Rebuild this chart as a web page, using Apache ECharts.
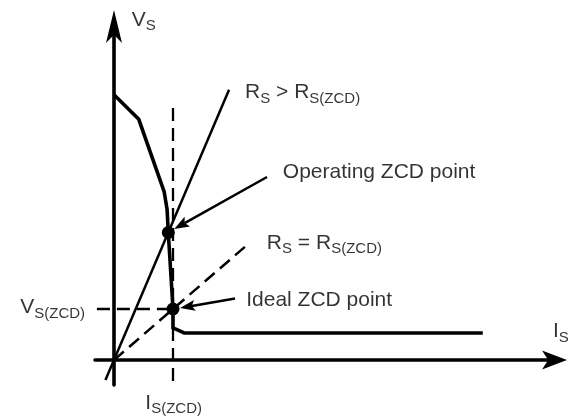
<!DOCTYPE html>
<html>
<head>
<meta charset="utf-8">
<style>
  html, body { margin: 0; padding: 0; background: #fff; }
  #chart { width: 568px; height: 417px; }
</style>
<script src="https://cdn.jsdelivr.net/npm/echarts@6/dist/echarts.min.js"></script>
</head>
<body>
<div id="chart"></div>
<script>
// Source characteristic V_S versus I_S, in units of the ideal ZCD point
// (I_S(ZCD) = 1 on the current axis, V_S(ZCD) = 1 on the voltage axis).
const sourceCurve = [
  [0, 5.2], [0.42, 4.72], [0.85, 3.3], [0.9, 2.95], [0.92, 2.5],
  [1, 1], [1, 0.63], [1.19, 0.53], [6.25, 0.53]
];
const operatingPoint = [0.92, 2.5];
const idealPoint = [1, 1];

// Load line for R_S > R_S(ZCD): through the origin and the operating point
const loadLineHigh = [[-0.145, -0.394], [1.95, 5.3]];
// Load line for R_S = R_S(ZCD): through the origin and the ideal point
const loadLineIdeal = [[0, 0], [2.28, 2.28]];

// Guide lines at I_S(ZCD) and V_S(ZCD)
const currentGuide = [[1, 4.94], [1, -0.45]];
const voltageGuide = [[-0.29, 1], [1, 1]];

// Callout arrows: [fromI, fromV, toI, toV]
const callouts = [
  [2.593, 3.588, 1.02, 2.57],
  [2.051, 1.206, 1.12, 1.02]
];

// Text of the annotations (rich text: m = main, s = subscript)
const labelTexts = [
  '{m|V}{s|S}',
  '{m|R}{s|S}{m| > R}{s|S(ZCD)}',
  '{m|Operating ZCD point}',
  '{m|R}{s|S}{m| = R}{s|S(ZCD)}',
  '{m|Ideal ZCD point}',
  '{m|V}{s|S(ZCD)}',
  '{m|I}{s|S(ZCD)}',
  '{m|I}{s|S}'
];

// ---- layout ----
const FONT = "'Liberation Sans', Arial, Helvetica, sans-serif";
const labelAnchors = [
  [0.3, 6.67], [2.22, 5.25], [2.86, 3.69], [2.59, 2.3],
  [2.24, 1.18], [-1.59, 1.04], [0.53, -0.84], [7.44, 0.56]
];

const chart = echarts.init(document.getElementById('chart'));

const labelData = labelTexts.map((t, i) => ({
  value: labelAnchors[i],
  label: { formatter: t }
}));

function lineSeries(name, data, width, dashed) {
  return {
    name: name,
    type: 'line',
    data: data,
    symbol: 'none',
    silent: true,
    z: 3,
    lineStyle: {
      color: '#000',
      width: width,
      type: dashed ? [13, 7] : 'solid',
      cap: 'butt',
      join: 'miter'
    }
  };
}

chart.setOption({
  animation: false,
  backgroundColor: '#fff',
  grid: { left: 95, right: 9, top: 20, bottom: 32 },
  xAxis: {
    type: 'value',
    min: -0.322,
    max: 7.542,
    axisLine: {
      onZero: true,
      symbol: ['none', 'arrow'],
      symbolSize: [14.25, 25],
      symbolOffset: [0, 8],
      lineStyle: { color: '#000', width: 3.6 }
    },
    axisTick: { show: false },
    axisLabel: { show: false },
    splitLine: { show: false }
  },
  yAxis: {
    type: 'value',
    min: -0.49,
    max: 6.667,
    axisLine: {
      onZero: true,
      symbol: ['none', 'arrow'],
      symbolSize: [12, 33],
      symbolOffset: [0, 10],
      lineStyle: { color: '#000', width: 3.6 }
    },
    axisTick: { show: false },
    axisLabel: { show: false },
    splitLine: { show: false }
  },
  series: [
    lineSeries('I(ZCD) guide', currentGuide, 2.3, true),
    lineSeries('V(ZCD) guide', voltageGuide, 2.3, true),
    lineSeries('R = R(ZCD)', loadLineIdeal, 2.5, true),
    lineSeries('R > R(ZCD)', loadLineHigh, 2.5, false),
    Object.assign(lineSeries('source', sourceCurve, 3.6, false), { z: 4 }),
    {
      name: 'ZCD points',
      type: 'scatter',
      data: [operatingPoint, idealPoint],
      symbol: 'circle',
      symbolSize: 13,
      itemStyle: { color: '#000', opacity: 1 },
      silent: true,
      z: 6
    },
    {
      name: 'callouts',
      type: 'custom',
      data: callouts,
      silent: true,
      z: 5,
      renderItem: function (params, api) {
        const p0 = api.coord([api.value(0), api.value(1)]);
        const p1 = api.coord([api.value(2), api.value(3)]);
        const dx = p1[0] - p0[0], dy = p1[1] - p0[1];
        const len = Math.sqrt(dx * dx + dy * dy);
        const ux = dx / len, uy = dy / len;
        const nx = -uy, ny = ux;
        const headLen = 15, headHalf = 5.5, notch = 3;
        const bx = p1[0] - ux * headLen, by = p1[1] - uy * headLen;
        const mx = p1[0] - ux * (headLen - notch), my = p1[1] - uy * (headLen - notch);
        return {
          type: 'group',
          children: [
            {
              type: 'line',
              shape: { x1: p0[0], y1: p0[1], x2: mx, y2: my },
              style: { stroke: '#000', lineWidth: 2.5 }
            },
            {
              type: 'polygon',
              shape: {
                points: [
                  [p1[0], p1[1]],
                  [bx + nx * headHalf, by + ny * headHalf],
                  [mx, my],
                  [bx - nx * headHalf, by - ny * headHalf]
                ]
              },
              style: { fill: '#000' }
            }
          ]
        };
      }
    },
    {
      name: 'annotations',
      type: 'scatter',
      data: labelData,
      symbol: 'circle',
      symbolSize: 0.1,
      itemStyle: { color: 'transparent' },
      clip: false,
      silent: true,
      z: 7,
      label: {
        show: true,
        position: 'right',
        distance: 0,
        color: '#000',
        fontFamily: FONT,
        rich: {
          m: { fontSize: 21, fontFamily: FONT, color: '#000' },
          s: { fontSize: 15, fontFamily: FONT, color: '#000', padding: [13, 0, 0, 0] }
        }
      }
    }
  ]
});
</script>
</body>
</html>
